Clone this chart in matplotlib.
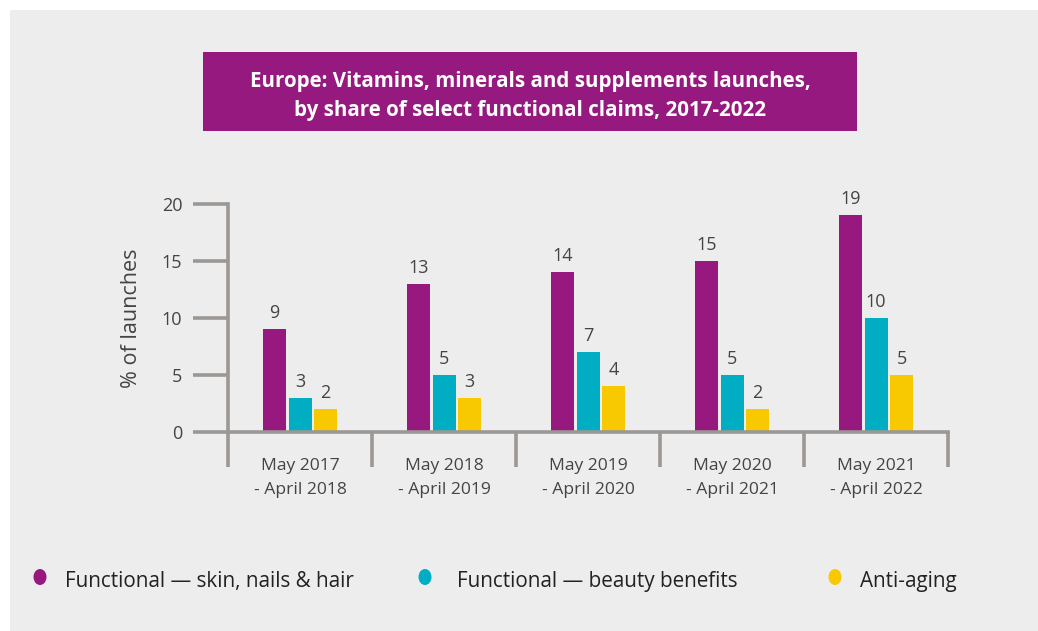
import matplotlib
matplotlib.use("Agg")
import matplotlib.pyplot as plt
from matplotlib.patches import Rectangle, Ellipse
import numpy as np

categories = ["May 2017\n- April 2018", "May 2018\n- April 2019", "May 2019\n- April 2020",
              "May 2020\n- April 2021", "May 2021\n- April 2022"]
skin_nails_hair = [9, 13, 14, 15, 19]
beauty_benefits = [3, 5, 7, 5, 10]
anti_aging = [2, 3, 4, 2, 5]
series_names = ["Functional \u2014 skin, nails & hair", "Functional \u2014 beauty benefits", "Anti-aging"]
colors = ["#97197f", "#00adc2", "#f8c800"]
y_ticks = [0, 5, 10, 15, 20]
title = "Europe: Vitamins, minerals and supplements launches,\nby share of select functional claims, 2017-2022"

W, H = 1038, 631
fig = plt.figure(figsize=(W / 100, H / 100), dpi=100)
fig.patch.set_facecolor("white")
fig.patches.append(Rectangle((10 / W, 0), (W - 10) / W, (H - 10) / H, transform=fig.transFigure,
                             facecolor="#ededed", edgecolor="none", zorder=-5))

FONT = ["Open Sans", "DejaVu Sans"]
axis_color = "#9a9794"
text_color = "#444444"

ax = fig.add_axes([228 / W, (H - 432) / H, (948 - 228) / W, (432 - 204) / H])
ax.set_facecolor("none")
ax.set_zorder(5)

x = np.arange(len(categories))
bw = 23 / 144
step = 25.5 / 144
for i, (vals, col) in enumerate(zip([skin_nails_hair, beauty_benefits, anti_aging], colors)):
    pos = x + (i - 1) * step
    ax.bar(pos, vals, width=bw, color=col, zorder=3)
    for px, v in zip(pos, vals):
        ax.annotate(str(v), (px, v), xytext=(0, 5), textcoords="offset points",
                    ha="center", va="bottom", fontsize=13, color=text_color, family=FONT)

ax.set_xlim(-0.5, len(categories) - 0.5)
ax.set_ylim(0, 20)
for s in ["top", "right"]:
    ax.spines[s].set_visible(False)
for s in ["left", "bottom"]:
    ax.spines[s].set_color(axis_color)
    ax.spines[s].set_linewidth(2.6)
    ax.spines[s].set_zorder(4)

ax.set_yticks(y_ticks)
ax.set_yticklabels([str(t) for t in y_ticks], family=FONT, fontsize=13, color=text_color)
ax.tick_params(axis="y", length=25, width=2.6, color=axis_color, pad=8)

ax.set_xticks(np.arange(len(categories) + 1) - 0.5)
ax.set_xticklabels([])
ax.tick_params(axis="x", which="major", length=25, width=2.6, color=axis_color)
ax.set_xticks(x, minor=True)
ax.set_xticklabels(categories, minor=True, family=FONT, fontsize=12.6, color=text_color, linespacing=1.65)
ax.tick_params(axis="x", which="minor", length=0, pad=19)

ax.set_ylabel("% of launches", family=FONT, fontsize=15.5, color=text_color, labelpad=14)

# title box
fig.patches.append(Rectangle((203 / W, (H - 131) / H), (857 - 203) / W, (131 - 52) / H,
                             transform=fig.transFigure, facecolor="#96197f", edgecolor="none", zorder=1))
fig.text(530 / W, (H - 96) / H, title, ha="center", va="center", color="white",
         fontsize=14.8, fontweight="bold", family=FONT,
         linespacing=1.45, zorder=2)

# legend
leg_marker_x = [40, 425, 835]
leg_text_x = [65, 457, 860]
leg_y = (H - 581) / H
for mx, tx, name, col in zip(leg_marker_x, leg_text_x, series_names, colors):
    fig.patches.append(Ellipse((mx / W, (H - 577) / H), 13 / W, 16 / H, transform=fig.transFigure,
                               facecolor=col, edgecolor="none", zorder=2))
    fig.text(tx / W, leg_y, name, ha="left", va="center", fontsize=14.9, color="#222222", family=FONT)

fig.savefig("out.png", dpi=100)
